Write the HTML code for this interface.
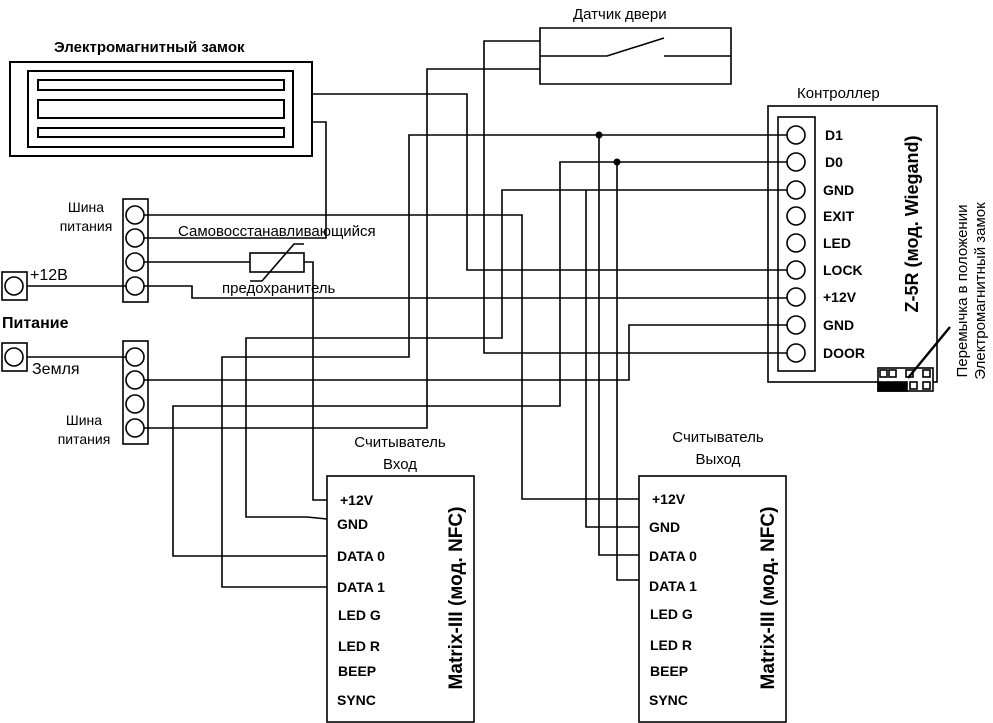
<!DOCTYPE html>
<html><head><meta charset="utf-8"><style>
html,body{margin:0;padding:0;background:#fff;}
svg{display:block;}
text{font-family:"Liberation Sans",Arial,sans-serif;fill:#000;}
.b{font-weight:bold;}
</style></head><body>
<svg width="993" height="723" viewBox="0 0 993 723" xmlns="http://www.w3.org/2000/svg">
<g fill="none" stroke="#000" stroke-width="1.6">
<rect x="10" y="62" width="302" height="94" stroke-width="2"/>
<rect x="28" y="71" width="265" height="76" stroke-width="2"/>
<rect x="38" y="80" width="246" height="10" stroke-width="2"/>
<rect x="38" y="100" width="246" height="18" stroke-width="2"/>
<rect x="38" y="128" width="246" height="9" stroke-width="2"/>
<path d="M540 28 H731 V84 H540 Z M540 56 H607 L664 38 M664 56 H731"/>
<rect x="768" y="106" width="169" height="276"/>
<rect x="778" y="117" width="37" height="254"/>
<circle cx="796" cy="135" r="9"/><circle cx="796" cy="162" r="9"/><circle cx="796" cy="190" r="9"/>
<circle cx="796" cy="216" r="9"/><circle cx="796" cy="243" r="9"/><circle cx="796" cy="270" r="9"/>
<circle cx="796" cy="297" r="9"/><circle cx="796" cy="325" r="9"/><circle cx="796" cy="353" r="9"/>
<rect x="878" y="368" width="55" height="23" fill="#fff"/>
<rect x="880" y="370" width="7" height="7"/><rect x="889" y="370" width="7" height="7"/>
<rect x="906" y="370" width="7" height="7"/><rect x="923" y="370" width="7" height="7"/>
<rect x="910" y="382" width="7" height="7"/><rect x="923" y="382" width="7" height="7"/>
<rect x="878" y="382" width="29" height="9" fill="#000"/>
<path d="M950 327 L908 378" stroke-width="2.4"/>
<rect x="123" y="199" width="25" height="103"/>
<circle cx="135" cy="215" r="9"/><circle cx="135" cy="238" r="9"/><circle cx="135" cy="262" r="9"/><circle cx="135" cy="286" r="9"/>
<rect x="123" y="341" width="25" height="103"/>
<circle cx="135" cy="357" r="9"/><circle cx="135" cy="380" r="9"/><circle cx="135" cy="404" r="9"/><circle cx="135" cy="428" r="9"/>
<rect x="2" y="272" width="25" height="28"/><circle cx="14" cy="286" r="9"/>
<rect x="2" y="343" width="25" height="28"/><circle cx="14" cy="357" r="9"/>
<rect x="250" y="253" width="54" height="19"/>
<path d="M250 281 H262 L294 244 H304"/>
<rect x="327" y="476" width="147" height="246"/>
<rect x="639" y="476" width="147" height="246"/>
<path d="M312 94 H467 V270 H787"/>
<path d="M312 122 H326 V238 H144"/>
<path d="M144 215 H522 V499 H639"/>
<path d="M144 262 H250 M304 262 H313 V500 H327"/>
<path d="M27 286 H126 M144 286 H192 V298 H787"/>
<path d="M27 357 H126"/>
<path d="M144 380 H629 V325 H787"/>
<path d="M144 428 H427 V69 H540"/>
<path d="M540 41 H484 V353 H787"/>
<path d="M787 135 H409 V357 H222 V587 H327"/>
<path d="M787 162 H560 V406 H173 V556 H327"/>
<path d="M787 190 H502 V338 H246 V517 H307 L327 519"/>
<path d="M586 190 V527 H639"/>
<path d="M599 135 V555 H639"/>
<path d="M617 162 V580 H639"/>
</g>
<circle cx="599" cy="135" r="3.5"/><circle cx="617" cy="162" r="3.5"/>
<text x="54" y="52" font-size="15" class="b">Электромагнитный замок</text>
<text x="573" y="19" font-size="15">Датчик двери</text>
<text x="797" y="98" font-size="15">Контроллер</text>
<g font-size="14" class="b">
<text x="825" y="140">D1</text><text x="825" y="167">D0</text><text x="823" y="195">GND</text>
<text x="823" y="221">EXIT</text><text x="823" y="248">LED</text><text x="823" y="275">LOCK</text>
<text x="823" y="302">+12V</text><text x="823" y="330">GND</text><text x="823" y="358">DOOR</text>
</g>
<text transform="translate(918,224) rotate(-90)" text-anchor="middle" font-size="18" class="b">Z-5R (мод. Wiegand)</text>
<text transform="translate(967,291) rotate(-90)" text-anchor="middle" font-size="15">Перемычка в положении</text>
<text transform="translate(985,291) rotate(-90)" text-anchor="middle" font-size="15">Электромагнитный замок</text>
<g font-size="14" text-anchor="middle">
<text x="86" y="212">Шина</text><text x="86" y="231">питания</text>
<text x="84" y="425">Шина</text><text x="84" y="444">питания</text>
</g>
<text x="178" y="236" font-size="15">Самовосстанавливающийся</text>
<text x="222" y="293" font-size="15">предохранитель</text>
<text x="30" y="280" font-size="16">+12В</text>
<text x="2" y="328" font-size="16" class="b">Питание</text>
<text x="32" y="374" font-size="16">Земля</text>
<g font-size="15" text-anchor="middle">
<text x="400" y="447">Считыватель</text><text x="400" y="469">Вход</text>
<text x="718" y="442">Считыватель</text><text x="718" y="464">Выход</text>
</g>
<g font-size="14" class="b">
<text x="340" y="505">+12V</text><text x="337" y="529">GND</text><text x="337" y="561">DATA 0</text>
<text x="337" y="592">DATA 1</text><text x="338" y="620">LED G</text><text x="338" y="651">LED R</text>
<text x="338" y="676">BEEP</text><text x="337" y="705">SYNC</text>
<text x="652" y="504">+12V</text><text x="649" y="532">GND</text><text x="649" y="561">DATA 0</text>
<text x="649" y="591">DATA 1</text><text x="650" y="619">LED G</text><text x="650" y="650">LED R</text>
<text x="650" y="676">BEEP</text><text x="649" y="705">SYNC</text>
</g>
<text transform="translate(462,598) rotate(-90)" text-anchor="middle" font-size="19" class="b">Matrix-III (мод. NFC)</text>
<text transform="translate(774,598) rotate(-90)" text-anchor="middle" font-size="19" class="b">Matrix-III (мод. NFC)</text>
</svg>
</body></html>
